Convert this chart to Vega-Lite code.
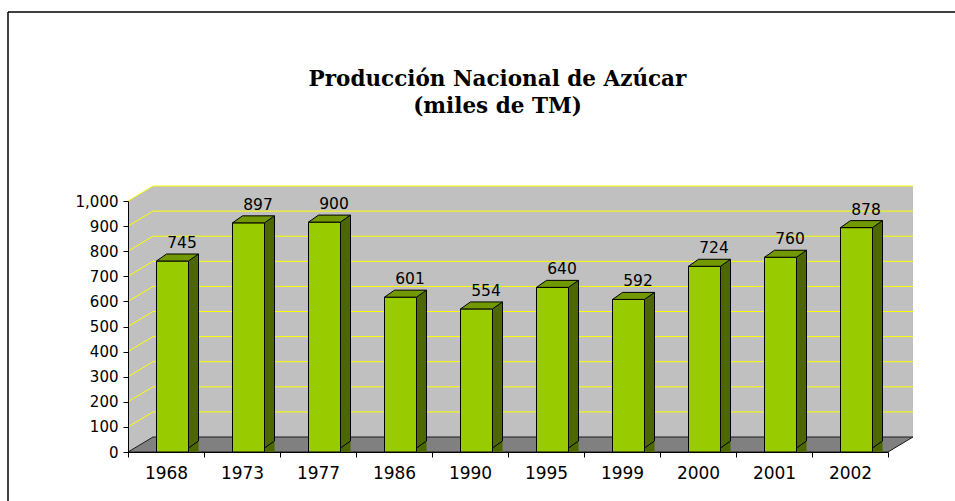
{
  "$schema": "https://vega.github.io/schema/vega-lite/v6.json",
  "width": 947,
  "height": 489,
  "autosize": {"type": "none"},
  "padding": {"left": 8, "top": 12, "right": 0, "bottom": 0},
  "background": "white",
  "config": {"view": {"stroke": null}},
  "title": {
    "text": ["Producción Nacional de Azúcar", "(miles de TM)"],
    "font": "DejaVu Serif",
    "fontSize": 21.5,
    "fontWeight": "bold",
    "color": "#000",
    "anchor": "middle",
    "frame": "group",
    "baseline": "top",
    "offset": 0,
    "dy": 106,
    "dx": 16,
    "lineHeight": 27
  },
  "datasets": {
    "bars": [
      {"year": "1968", "value": 745},
      {"year": "1973", "value": 897},
      {"year": "1977", "value": 900},
      {"year": "1986", "value": 601},
      {"year": "1990", "value": 554},
      {"year": "1995", "value": 640},
      {"year": "1999", "value": 592},
      {"year": "2000", "value": 724},
      {"year": "2001", "value": 760},
      {"year": "2002", "value": 878}
    ],
    "grid": [
      {"v": 100}, {"v": 200}, {"v": 300}, {"v": 400}, {"v": 500},
      {"v": 600}, {"v": 700}, {"v": 800}, {"v": 900}, {"v": 1000}
    ],
    "base": [{"v": 0}]
  },
  "layer": [
    {
      "data": {"name": "bars"},
      "mark": {"type": "bar", "width": 10, "xOffset": 27.5, "yOffset": -11, "y2Offset": -11, "fill": "#4C6600", "strokeWidth": 0},
      "encoding": {
        "x": {
          "field": "year", "type": "nominal", "sort": null,
          "scale": {"range": [120, 880], "paddingInner": 0, "paddingOuter": 0},
          "axis": {
            "orient": "bottom", "offset": -49, "tickBand": "extent", "labelAngle": 0,
            "labelFont": "DejaVu Sans", "labelFontSize": 17, "labelColor": "#000",
            "labelPadding": 8, "tickSize": 5, "tickColor": "#000", "domainColor": "#000",
            "title": null, "grid": false, "zindex": 1
          }
        },
        "y": {
          "field": "value", "type": "quantitative", "stack": null,
          "scale": {"domain": [0, 1000], "range": [440, 189], "nice": false},
          "axis": {
            "values": [0, 100, 200, 300, 400, 500, 600, 700, 800, 900, 1000],
            "format": ",.0f", "formatType": "number", "offset": -120, "grid": false,
            "labelFont": "DejaVu Sans", "labelFontSize": 15, "labelColor": "#000",
            "labelPadding": 5, "tickSize": 5, "tickColor": "#000", "domainColor": "#000",
            "title": null, "zindex": 1
          }
        }
      }
    },
    {
      "data": {"name": "base"},
      "mark": {"type": "point", "shape": "M-38,0 L-13,-15 L-13,-266 L-38,-251 Z M-13,-15 L747,-15 L747,-266 L-13,-266 Z", "size": 4, "filled": true, "fill": "#C0C0C0", "strokeWidth": 0, "opacity": 1},
      "encoding": {
        "x": {"datum": "1968"},
        "y": {"datum": 0}
      }
    },
    {
      "data": {"name": "base"},
      "mark": {"type": "point", "shape": "M-38,0 L722,0 L747,-15 L-13,-15 Z", "size": 4, "filled": true, "fill": "#808080", "stroke": "#1a1a1a", "strokeWidth": 1, "opacity": 1},
      "encoding": {
        "x": {"datum": "1968"},
        "y": {"datum": 0}
      }
    },
    {
      "data": {"name": "grid"},
      "mark": {"type": "point", "shape": "M-38,0 L-13,-15 L747,-15", "size": 4, "filled": false, "fill": null, "stroke": "#FFFF00", "strokeWidth": 1, "opacity": 1},
      "encoding": {
        "x": {"datum": "1968"},
        "y": {"field": "v", "type": "quantitative"}
      }
    },
    {
      "data": {"name": "bars"},
      "mark": {"type": "bar", "width": 10, "xOffset": 27.5, "yOffset": -11, "y2Offset": -11, "fill": "#4C6600", "strokeWidth": 0},
      "encoding": {
        "x": {"field": "year", "type": "nominal", "sort": null},
        "y": {"field": "value", "type": "quantitative", "stack": null}
      }
    },
    {
      "data": {"name": "bars"},
      "mark": {"type": "point", "shape": "M22.5,-4 L32.5,-11 L22.5,-11 Z", "size": 4, "filled": true, "fill": "#4C6600", "strokeWidth": 0, "opacity": 1},
      "encoding": {
        "x": {"field": "year", "type": "nominal", "sort": null},
        "y": {"datum": 0}
      }
    },
    {
      "data": {"name": "bars"},
      "mark": {"type": "rule", "xOffset": 32.5, "yOffset": -11, "y2Offset": -11, "stroke": "#000", "strokeWidth": 1},
      "encoding": {
        "x": {"field": "year", "type": "nominal", "sort": null},
        "y": {"field": "value", "type": "quantitative"},
        "y2": {"datum": 0}
      }
    },
    {
      "data": {"name": "bars"},
      "mark": {"type": "point", "shape": "M22.5,-4 L32.5,-11", "size": 4, "filled": false, "fill": null, "stroke": "#000", "strokeWidth": 1, "opacity": 1},
      "encoding": {
        "x": {"field": "year", "type": "nominal", "sort": null},
        "y": {"datum": 0}
      }
    },
    {
      "data": {"name": "bars"},
      "mark": {"type": "bar", "width": 32, "xOffset": 6.5, "yOffset": -4, "y2Offset": -4, "fill": "#99CC00", "stroke": "#000", "strokeWidth": 1},
      "encoding": {
        "x": {"field": "year", "type": "nominal", "sort": null},
        "y": {"field": "value", "type": "quantitative", "stack": null}
      }
    },
    {
      "data": {"name": "bars"},
      "mark": {"type": "point", "shape": "M-9.5,-4 L22.5,-4 L32.5,-11 L0.5,-11 Z", "size": 4, "filled": true, "fill": "#739900", "stroke": "#000", "strokeWidth": 1, "opacity": 1},
      "encoding": {
        "x": {"field": "year", "type": "nominal", "sort": null},
        "y": {"field": "value", "type": "quantitative"}
      }
    },
    {
      "data": {"name": "bars"},
      "mark": {"type": "text", "font": "DejaVu Sans", "fontSize": 15.5, "color": "#000", "baseline": "middle", "align": "center", "dx": 16, "dy": -22},
      "encoding": {
        "x": {"field": "year", "type": "nominal", "sort": null},
        "y": {"field": "value", "type": "quantitative"},
        "text": {"field": "value", "type": "quantitative"}
      }
    },
    {
      "data": {"name": "base"},
      "mark": {"type": "rule", "stroke": "#000", "strokeWidth": 1.5},
      "encoding": {
        "x": {"value": 0},
        "y": {"value": 0},
        "y2": {"value": "height"}
      }
    },
    {
      "data": {"name": "base"},
      "mark": {"type": "rule", "stroke": "#000", "strokeWidth": 1.5},
      "encoding": {
        "x": {"value": 0},
        "x2": {"value": "width"},
        "y": {"value": 0}
      }
    }
  ]
}
